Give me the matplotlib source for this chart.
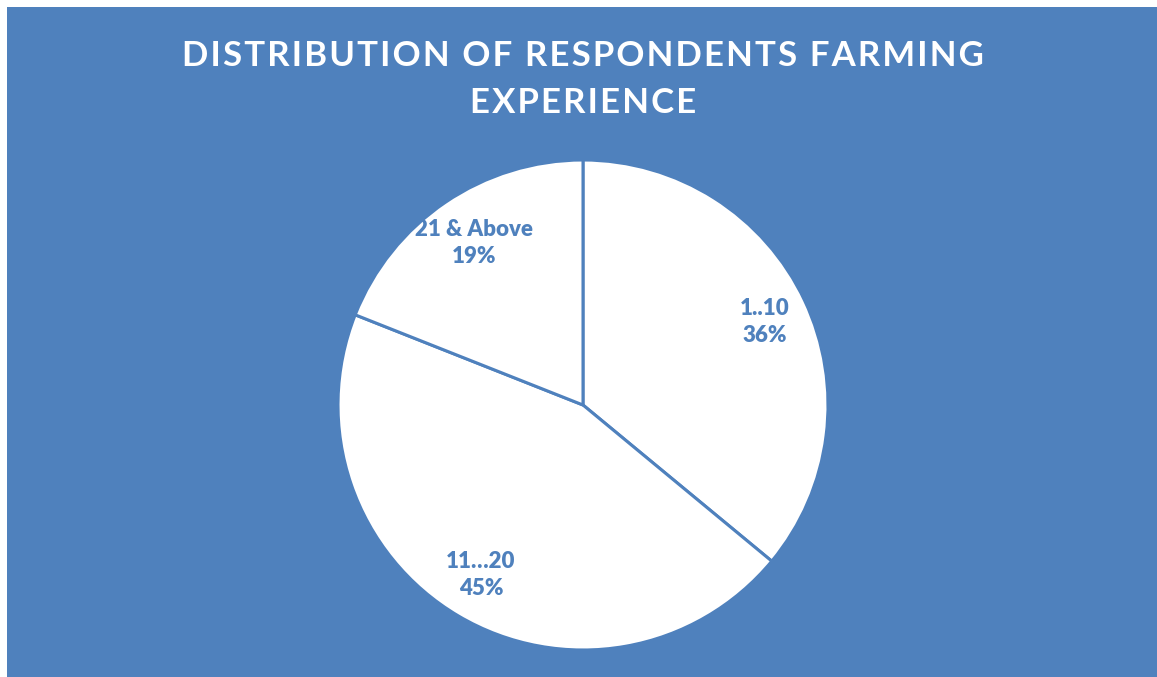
import matplotlib.pyplot as plt
from matplotlib.patches import Rectangle

labels = ['1..10', '11…20', '21 & Above']
shares = [36, 45, 19]
title_lines = ['DISTRIBUTION OF RESPONDENTS FARMING', 'EXPERIENCE']

blue = '#4F81BD'
W, H = 1157, 677

plt.rcParams['font.family'] = ['Lato', 'DejaVu Sans']

fig = plt.figure(figsize=(W / 100, H / 100), dpi=100)
fig.patch.set_facecolor('white')
fig.patches.append(Rectangle((7 / W, 0), 1 - 7 / W, 1 - 7 / H,
                             transform=fig.transFigure, facecolor=blue,
                             edgecolor='none', zorder=-5))

# pie centred at (583, 405) px from top-left, radius 245 px
cx, cy, r = 583, H - 405, 245
ax = fig.add_axes([(cx - r) / W, (cy - r) / H, 2 * r / W, 2 * r / H])
ax.set_facecolor('none')
ax.set_zorder(2)
wedges, _ = ax.pie(shares, startangle=90, counterclock=False,
                   colors=['white'] * 3,
                   wedgeprops=dict(edgecolor=blue, linewidth=2.2))
ax.set_xlim(-1, 1)
ax.set_ylim(-1, 1)
ax.set_aspect('equal')
ax.axis('off')

# label positions in px (from top-left)
label_pos = [(765, 322), (481, 575), (474, 243)]
for lab, val, (x, y) in zip(labels, shares, label_pos):
    fig.text(x / W, 1 - y / H, f'{lab}\n{val}%', ha='center', va='center',
             color=blue, fontsize=16, fontweight='heavy', linespacing=1.3,
             zorder=5)


def spaced(s):
    # widen the tracking a little with hair spaces between letters
    return '\u200a'.join(s)


for line, y in zip(title_lines, [56, 103]):
    fig.text(583 / W, 1 - y / H, spaced(line), ha='center', va='center',
             color='white', fontsize=25, fontweight='bold')

fig.savefig('out.png', dpi=100)
